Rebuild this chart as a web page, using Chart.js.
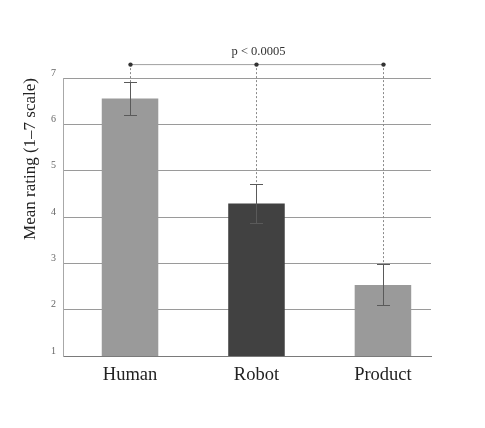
<!DOCTYPE html>
<html>
<head>
<meta charset="utf-8">
<script src="https://cdn.jsdelivr.net/npm/chart.js@4/dist/chart.umd.min.js"></script>
<style>
  body { margin: 0; background: #fff; }
  #wrap { width: 485px; height: 428px; }
</style>
</head>
<body>
<div id="wrap"><canvas id="myChart"></canvas></div>
<script>
// values
var categories = ['Human', 'Robot', 'Product'];
var means = [6.56, 4.29, 2.53];
var errHigh = [6.91, 4.72, 2.98];
var errLow = [6.20, 3.88, 2.10];
var barColors = ['#9a9a9a', '#414141', '#9a9a9a'];
var yTicks = [1, 2, 3, 4, 5, 6, 7];
var sigLabel = 'p < 0.0005';
var sigLevel = 7.3;

var serif = "'Liberation Serif', 'DejaVu Serif', serif";

var errorBars = {
    id: 'errorBars',
    afterDatasetsDraw: function (chart) {
        var ctx = chart.ctx, x = chart.scales.x, y = chart.scales.y;
        ctx.save();

        // significance bracket
        var yb = y.getPixelForValue(sigLevel);
        var xa = x.getPixelForValue(0), xb = x.getPixelForValue(categories.length - 1);
        ctx.strokeStyle = '#a0a0a0';
        ctx.lineWidth = 1;
        ctx.beginPath();
        ctx.moveTo(xa, yb + 0.5);
        ctx.lineTo(xb, yb + 0.5);
        ctx.stroke();

        ctx.setLineDash([2, 2]);
        ctx.strokeStyle = '#8a8a8a';
        for (var i = 0; i < categories.length; i++) {
            var cx = Math.round(x.getPixelForValue(i)) + 0.5;
            ctx.beginPath();
            ctx.moveTo(cx, yb);
            ctx.lineTo(cx, y.getPixelForValue(errHigh[i]));
            ctx.stroke();
        }
        ctx.setLineDash([]);

        // error bars
        ctx.strokeStyle = '#5a5a5a';
        for (var j = 0; j < categories.length; j++) {
            var px = Math.round(x.getPixelForValue(j)) + 0.5;
            var hi = Math.round(y.getPixelForValue(errHigh[j])) + 0.5;
            var lo = Math.round(y.getPixelForValue(errLow[j])) + 0.5;
            ctx.beginPath();
            ctx.moveTo(px, hi); ctx.lineTo(px, lo);
            ctx.moveTo(px - 6.5, hi); ctx.lineTo(px + 6.5, hi);
            ctx.moveTo(px - 6.5, lo); ctx.lineTo(px + 6.5, lo);
            ctx.stroke();
        }

        // dots on the bracket
        ctx.fillStyle = '#333';
        for (var k = 0; k < categories.length; k++) {
            ctx.beginPath();
            ctx.arc(Math.round(x.getPixelForValue(k)) + 0.5, yb + 0.5, 2.2, 0, Math.PI * 2);
            ctx.fill();
        }

        ctx.fillStyle = '#333';
        ctx.font = '12.5px ' + serif;
        ctx.textAlign = 'center';
        ctx.textBaseline = 'middle';
        ctx.fillText(sigLabel, x.getPixelForValue(1) + 2, yb - 12);
        ctx.restore();
    }
};

var myChart = new Chart(document.getElementById('myChart'), {
    type: 'bar',
    data: {
        datasets: [{
            data: means.map(function (v, i) { return { x: i, y: v }; }),
            backgroundColor: barColors,
            borderWidth: 0,
            categoryPercentage: 1,
            barPercentage: 0.447
        }]
    },
    options: {
        responsive: true,
        maintainAspectRatio: false,
        animation: false,
        layout: { padding: { left: 8, right: 54, top: 78, bottom: 30 } },
        plugins: { legend: { display: false }, tooltip: { enabled: false } },
        scales: {
            x: {
                type: 'linear',
                offset: false,
                min: -0.53,
                max: 2.38,
                afterBuildTicks: function (s) { s.ticks = categories.map(function (c, i) { return { value: i }; }); },
                grid: { display: false },
                border: { display: true, color: '#7a7a7a', width: 1 },
                ticks: {
                    color: '#222',
                    font: { family: serif, size: 18.5 },
                    padding: 0,
                    autoSkip: false,
                    maxRotation: 0,
                    callback: function (v) { return categories[v]; }
                },
                afterFit: function (s) { s.height = 42; }
            },
            y: {
                min: 1,
                max: 7,
                afterBuildTicks: function (s) { s.ticks = yTicks.map(function (v) { return { value: v }; }); },
                grid: { color: '#9a9a9a', drawTicks: false },
                border: { display: true, color: '#a8a8a8' },
                ticks: { color: '#666', font: { family: serif, size: 10 }, padding: 7, labelOffset: -5 },
                title: {
                    display: true,
                    align: 'end',
                    text: 'Mean rating (1–7 scale)',
                    color: '#222',
                    font: { family: serif, size: 17 },
                    padding: { top: 12, bottom: 0 }
                },
                afterFit: function (s) { s.width = 55; }
            }
        }
    },
    plugins: [errorBars]
});
</script>
</body>
</html>
